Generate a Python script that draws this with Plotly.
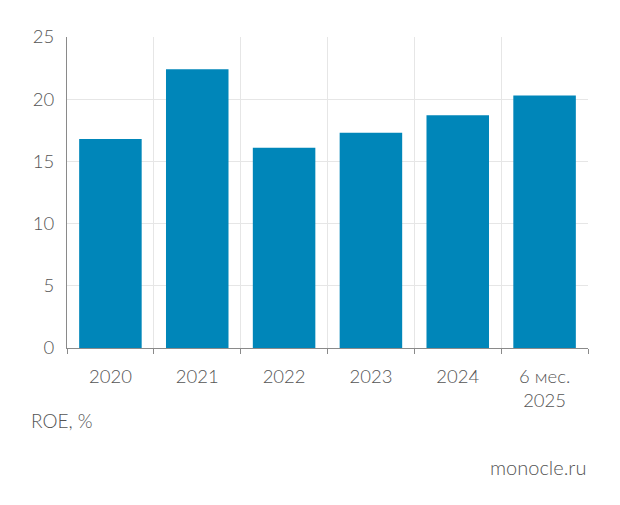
import plotly.graph_objects as go

categories = ["2020", "2021", "2022", "2023", "2024", "6 мес.<br>2025"]
roe_values = [16.8, 22.4, 16.1, 17.3, 18.7, 20.3]
y_ticks = [0, 5, 10, 15, 20, 25]

fig = go.Figure(go.Bar(
    x=categories, y=roe_values,
    marker=dict(color="#0086b9", line=dict(width=0)),
    hoverinfo="skip",
))

font_color = "#555555"
fam = "Lato, Open Sans, sans-serif"
fig.update_layout(
    width=620, height=505,
    margin=dict(l=59, r=40, t=29, b=165),
    paper_bgcolor="white", plot_bgcolor="white",
    bargap=0.28,
    showlegend=False,
    font=dict(family=fam, size=18, color=font_color, weight=300),
    xaxis=dict(
        type="category", tickson="boundaries",
        showgrid=True, gridcolor="#e6e6e6", gridwidth=1,
        showline=True, linecolor="#8a8a8a", linewidth=1,
        ticks="outside", ticklen=5, tickcolor="#8a8a8a",
        ticklabelstandoff=12,
        tickfont=dict(family=fam, size=18.5, color=font_color, weight=300),
        fixedrange=True,
    ),
    yaxis=dict(
        range=[0, 25], tickvals=y_ticks,
        showgrid=True, gridcolor="#e6e6e6", gridwidth=1,
        showline=True, linecolor="#8a8a8a", linewidth=1,
        zeroline=False,
        ticks="", ticklabelstandoff=8,
        tickfont=dict(family=fam, size=18.5, color=font_color, weight=300),
        fixedrange=True,
    ),
    annotations=[
        dict(text="ROE, %", xref="paper", yref="paper", x=-0.072, y=-0.232,
             xanchor="left", yanchor="middle", showarrow=False,
             font=dict(family=fam, size=19, color=font_color, weight=300)),
        dict(text="monocle.ru", xref="paper", yref="paper", x=1.0, y=-0.383,
             xanchor="right", yanchor="middle", showarrow=False,
             font=dict(family=fam, size=20, color=font_color, weight=300)),
    ],
)

fig.write_html("out.html", config={"displayModeBar": False})
